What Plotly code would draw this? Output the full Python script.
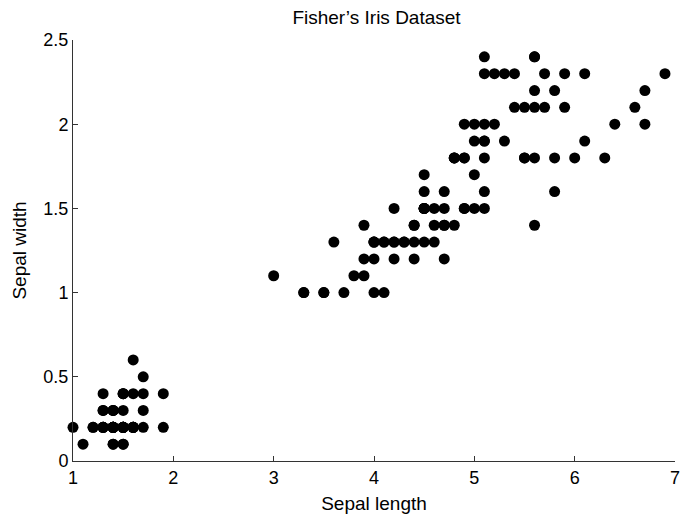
import plotly.graph_objects as go

# Petal measurements as shown (points at y=2.5 are not visible in the reference)
setosa_x = [1.4,1.4,1.3,1.5,1.4,1.7,1.4,1.5,1.4,1.5,1.5,1.6,1.4,1.1,1.2,1.5,1.3,1.4,1.7,1.5,
            1.7,1.5,1.0,1.7,1.9,1.6,1.6,1.5,1.4,1.6,1.6,1.5,1.5,1.4,1.5,1.2,1.3,1.4,1.3,1.5,
            1.3,1.3,1.3,1.6,1.9,1.4,1.6,1.4,1.5,1.4]
setosa_y = [0.2,0.2,0.2,0.2,0.2,0.4,0.3,0.2,0.2,0.1,0.2,0.2,0.1,0.1,0.2,0.4,0.4,0.3,0.3,0.3,
            0.2,0.4,0.2,0.5,0.2,0.2,0.4,0.2,0.2,0.2,0.2,0.4,0.1,0.2,0.2,0.2,0.2,0.1,0.2,0.2,
            0.3,0.3,0.2,0.6,0.4,0.3,0.2,0.2,0.2,0.2]
versicolor_x = [4.7,4.5,4.9,4.0,4.6,4.5,4.7,3.3,4.6,3.9,3.5,4.2,4.0,4.7,3.6,4.4,4.5,4.1,4.5,3.9,
                4.8,4.0,4.9,4.7,4.3,4.4,4.8,5.0,4.5,3.5,3.8,3.7,3.9,5.1,4.5,4.5,4.7,4.4,4.1,4.0,
                4.4,4.6,4.0,3.3,4.2,4.2,4.2,4.3,3.0,4.1]
versicolor_y = [1.4,1.5,1.5,1.3,1.5,1.3,1.6,1.0,1.3,1.4,1.0,1.5,1.0,1.4,1.3,1.4,1.5,1.0,1.5,1.1,
                1.8,1.3,1.5,1.2,1.3,1.4,1.4,1.7,1.5,1.0,1.1,1.0,1.2,1.6,1.5,1.6,1.5,1.3,1.3,1.3,
                1.2,1.4,1.2,1.0,1.3,1.2,1.3,1.3,1.1,1.3]
virginica_x = [5.1,5.9,5.6,5.8,6.6,4.5,6.3,5.8,5.1,5.3,5.5,5.0,5.1,5.3,5.5,6.7,6.9,5.0,5.7,4.9,
               6.7,4.9,5.7,6.0,4.8,4.9,5.6,5.8,6.1,6.4,5.6,5.1,5.6,6.1,5.6,5.5,4.8,5.4,5.6,5.1,
               5.1,5.9,5.2,5.0,5.2,5.4,5.1]
virginica_y = [1.9,2.1,1.8,2.2,2.1,1.7,1.8,1.8,2.0,1.9,2.1,2.0,2.4,2.3,1.8,2.2,2.3,1.5,2.3,2.0,
               2.0,1.8,2.1,1.8,1.8,1.8,2.1,1.6,1.9,2.0,2.2,1.5,1.4,2.3,2.4,1.8,1.8,2.1,2.4,2.3,
               1.9,2.3,2.3,1.9,2.0,2.3,1.8]

x_vals = setosa_x + versicolor_x + virginica_x
y_vals = setosa_y + versicolor_y + virginica_y

x_ticks = [1, 2, 3, 4, 5, 6, 7]
y_ticks = [0, 0.5, 1, 1.5, 2, 2.5]
y_tick_text = ["0", "0.5", "1", "1.5", "2", "2.5"]

W, H = 688, 519
font_family = "Liberation Sans, Arial, Helvetica, sans-serif"

fig = go.Figure(go.Scatter(
    x=x_vals, y=y_vals, mode="markers",
    marker=dict(color="black", size=11, line=dict(width=0)),
    cliponaxis=False, hoverinfo="x+y",
))

axis_common = dict(
    showgrid=False, zeroline=False, showline=True, linecolor="#333333", linewidth=1,
    ticks="inside", ticklen=5, tickwidth=1, tickcolor="#333333",
    tickfont=dict(family=font_family, size=18, color="black"),
    mirror=False,
)

fig.update_layout(
    width=W, height=H,
    margin=dict(l=73, r=8, t=40, b=55),
    paper_bgcolor="white", plot_bgcolor="white",
    showlegend=False,
    font=dict(family=font_family, color="black"),
    title=dict(text="Fisher\u2019s Iris Dataset", x=(73 + 680) / 2 / W, xanchor="center",
               y=1 - 17 / H, yanchor="middle", yref="container",
               font=dict(family=font_family, size=19, color="black")),
    xaxis=dict(range=[1, 7], tickvals=x_ticks, ticktext=[str(v) for v in x_ticks],
               title=dict(text="Sepal length", font=dict(family=font_family, size=19), standoff=10),
               **axis_common),
    yaxis=dict(range=[0, 2.5], tickvals=y_ticks, ticktext=y_tick_text,
               title=dict(text="Sepal width", font=dict(family=font_family, size=19), standoff=11),
               **axis_common),
)

fig.write_html(
    "out.html",
    config={"displayModeBar": False},
    post_script="document.body.style.margin='0';document.body.style.overflow='hidden';",
)
